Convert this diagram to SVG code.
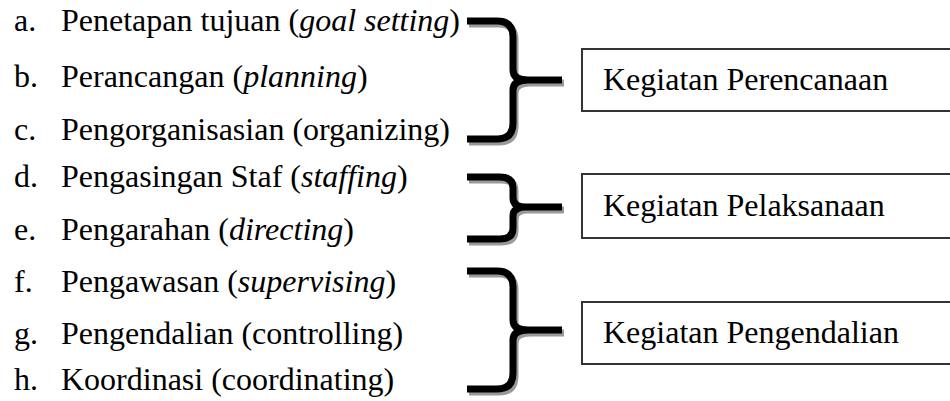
<svg xmlns="http://www.w3.org/2000/svg" width="950" height="401" viewBox="0 0 950 401">
<defs>
<style>
text{font-family:"Liberation Serif","Times New Roman",serif;font-size:32px;fill:#000}
.i{font-style:italic}
.box{fill:#fff;stroke:#333;stroke-width:2}
.br{fill:none;stroke:#000;stroke-width:7;stroke-linejoin:round}
.sh{fill:none;stroke:#9a9a9a;stroke-width:7;stroke-linejoin:round}
</style>
<path id="b1" d="M467,21 H497 Q513,21 513,37 V70 Q513,80 528,80 H562 M528,80 Q513,80 513,90 V123 Q513,139 497,139 H467"/>
<path id="b2" d="M467,177 H500 Q513,177 513,188 V198 Q513,207 526,207 H562 M526,207 Q513,207 513,216 V228 Q513,239 500,239 H467"/>
<path id="b3" d="M467,271 H497 Q513,271 513,287 V320 Q513,330 528,330 H562 M528,330 Q513,330 513,340 V373 Q513,389 497,389 H467"/>
</defs>
<g id="items">
<text x="14" y="31">a.</text><text x="61" y="31">Penetapan tujuan (<tspan class="i">goal setting</tspan>)</text>
<text x="14" y="87">b.</text><text x="61" y="87">Perancangan (<tspan class="i">planning</tspan>)</text>
<text x="14" y="140">c.</text><text x="61" y="140">Pengorganisasian (organizing)</text>
<text x="14" y="187">d.</text><text x="61" y="187">Pengasingan Staf (<tspan class="i">staffing</tspan>)</text>
<text x="14" y="240">e.</text><text x="61" y="240">Pengarahan (<tspan class="i">directing</tspan>)</text>
<text x="14" y="292">f.</text><text x="61" y="292">Pengawasan (<tspan class="i">supervising</tspan>)</text>
<text x="14" y="344">g.</text><text x="61" y="344">Pengendalian (controlling)</text>
<text x="14" y="390">h.</text><text x="61" y="390">Koordinasi (coordinating)</text>
</g>
<g id="connectors">
<use href="#b1" class="sh" transform="translate(2,3)"/>
<use href="#b1" class="br"/>
<use href="#b2" class="sh" transform="translate(2,3)"/>
<use href="#b2" class="br"/>
<use href="#b3" class="sh" transform="translate(2,3)"/>
<use href="#b3" class="br"/>
</g>
<g id="node-perencanaan">
<rect class="box" x="582" y="49" width="380" height="62"/>
<text x="603" y="90">Kegiatan Perencanaan</text>
</g>
<g id="node-pelaksanaan">
<rect class="box" x="582" y="174" width="380" height="64"/>
<text x="603" y="216">Kegiatan Pelaksanaan</text>
</g>
<g id="node-pengendalian">
<rect class="box" x="582" y="302" width="380" height="62"/>
<text x="603" y="343">Kegiatan Pengendalian</text>
</g>
</svg>
